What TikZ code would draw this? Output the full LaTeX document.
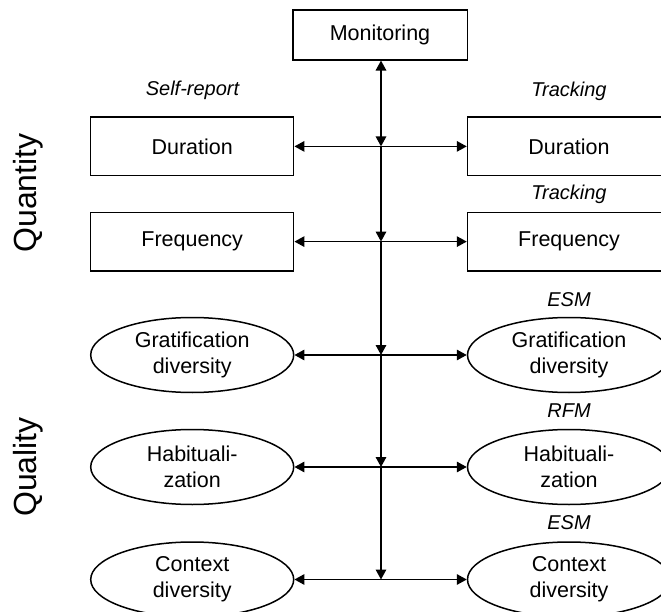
\documentclass[tikz,border=0pt]{standalone}
\usepackage{fontspec}
\setmainfont{Liberation Sans}
\usetikzlibrary{shapes.geometric,arrows.meta}
\begin{document}
\begin{tikzpicture}[x=1pt,y=-1pt,
  base/.style={draw=black,line width=1.5pt,inner sep=0pt,align=center,
    font=\fontsize{21.5}{26}\selectfont},
  rbox/.style={base,rectangle,minimum width=203pt,minimum height=58.5pt},
  ebox/.style={base,ellipse,minimum width=203pt,minimum height=75pt},
  mbox/.style={base,rectangle,minimum width=174.5pt,minimum height=50pt},
  meth/.style={font=\fontsize{20}{24}\selectfont\itshape,inner sep=0pt},
  side/.style={font=\fontsize{32}{38}\selectfont,rotate=90,inner sep=0pt},
  conn/.style={line width=1.6pt,-{Triangle[length=10pt,width=10.5pt]}},
  both/.style={line width=1.6pt,{Triangle[length=10pt,width=10.5pt]}-{Triangle[length=10pt,width=10.5pt]}}
]
\useasboundingbox (0,0) rectangle (661,612);
\clip (0,0) rectangle (661,612);

\node[mbox] (mon) at (380,34.8) {Monitoring};

\node[rbox] (ld) at (192.2,146.4) {Duration};
\node[rbox] (rd) at (569,146.4) {Duration};
\node[rbox] (lf) at (192.2,241.6) {Frequency};
\node[rbox] (rf) at (569,241.6) {Frequency};
\node[ebox] (lg) at (192.2,355) {Gratification\\diversity};
\node[ebox] (rg) at (569,355) {Gratification\\diversity};
\node[ebox] (lh) at (192.2,467) {Habituali-\\zation};
\node[ebox] (rh) at (569,467) {Habituali-\\zation};
\node[ebox] (lc) at (192.2,579.5) {Context\\diversity};
\node[ebox] (rc) at (569,579.5) {Context\\diversity};

\node[meth] (sr) at (192.5,90.5) {Self-report};
\node[meth] (t1) at (569,91) {Tracking};
\node[meth] (t2) at (569,194) {Tracking};
\node[meth] (e1) at (569,300) {ESM};
\node[meth] (r1) at (569,410.6) {RFM};
\node[meth] (e2) at (569,523) {ESM};

\node[side] (qn) at (28.7,193) {Quantity};
\node[side] (ql) at (28.7,467) {Quality};

\coordinate (j1) at (381,146.4);
\coordinate (j2) at (381,241.6);
\coordinate (j3) at (381,355);
\coordinate (j4) at (381,467);
\coordinate (j5) at (381,579.5);

\draw[both] (mon.south -| j1) -- (j1);
\draw[conn] (j1) -- (j2);
\draw[conn] (j2) -- (j3);
\draw[conn] (j3) -- (j4);
\draw[conn] (j4) -- (j5);

\foreach \j/\l/\r in {j1/ld/rd, j2/lf/rf, j3/lg/rg, j4/lh/rh, j5/lc/rc}{
  \draw[conn] (\j) -- (\l.east);
  \draw[conn] (\j) -- (\r.west);
}
\end{tikzpicture}
\end{document}
